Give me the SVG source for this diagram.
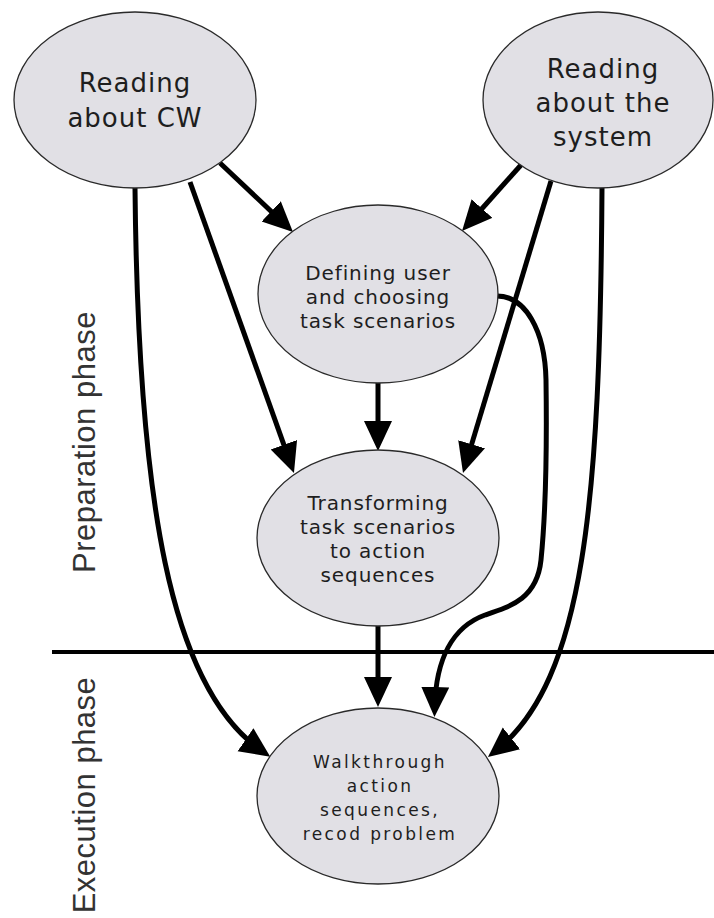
<svg xmlns="http://www.w3.org/2000/svg" width="714" height="918" viewBox="0 0 714 918">
<defs>
<style>
.node ellipse{fill:#e1e0e5;stroke:#2a2a2a;stroke-width:1.3}
.node text{font-family:"DejaVu Sans",Verdana,sans-serif;fill:#1e1e1e;text-anchor:middle}
.big{font-size:26px;letter-spacing:1px}
.mid{font-size:20px;letter-spacing:0.9px}
.small{font-size:17px;letter-spacing:2.4px}
.edge{fill:none;stroke:#000;stroke-width:5;marker-end:url(#ah)}
.phase{font-family:"Liberation Sans",Arial,sans-serif;font-size:31px;fill:#333;text-anchor:middle;letter-spacing:0.5px}
</style>
<marker id="ah" markerUnits="userSpaceOnUse" markerWidth="32" markerHeight="30" refX="20" refY="14" orient="auto">
<path d="M0,0 L30,14 L0,28 Z" fill="#000"/>
</marker>
</defs>
<rect width="714" height="918" fill="#fff"/>
<g id="divider">
<line x1="52" y1="652" x2="714" y2="652" stroke="#000" stroke-width="4"/>
</g>
<g id="phase-labels">
<text class="phase" transform="translate(95,442) rotate(-90)">Preparation phase</text>
<text class="phase" transform="translate(95,795) rotate(-90)">Execution phase</text>
</g>
<g id="connectors">
<path class="edge" d="M220,163 L285.7,225.1"/>
<path class="edge" d="M190,182 L290.6,463.6"/>
<path class="edge" d="M135,188 C138,500 170,688 262,751"/>
<path class="edge" d="M521,165 L468.7,223.5"/>
<path class="edge" d="M551,181 L465.9,463.4"/>
<path class="edge" d="M602,188 C600,500 585,680 495.8,750.8"/>
<path class="edge" d="M378,383 L378,441"/>
<path class="edge" d="M378,626 L378,697"/>
<path class="edge" d="M497,296 C525,296 545,330 546,380 C547,450 545,520 541,560 C537,598 512,606 485,615 C452,627 436,660 434.7,707"/>
</g>
<g id="n-cw" class="node">
<ellipse cx="135" cy="100" rx="121" ry="88"/>
<text class="big" x="135" y="92">Reading</text>
<text class="big" x="135" y="127">about CW</text>
</g>
<g id="n-system" class="node">
<ellipse cx="598" cy="100" rx="115" ry="88"/>
<text class="big" x="603" y="78">Reading</text>
<text class="big" x="603" y="112">about the</text>
<text class="big" x="603" y="146">system</text>
</g>
<g id="n-define" class="node">
<ellipse cx="378" cy="294" rx="120" ry="89"/>
<text class="mid" x="378" y="280">Defining user</text>
<text class="mid" x="378" y="304">and choosing</text>
<text class="mid" x="378" y="328">task scenarios</text>
</g>
<g id="n-transform" class="node">
<ellipse cx="378" cy="538" rx="121" ry="88"/>
<text class="mid" x="378" y="510">Transforming</text>
<text class="mid" x="378" y="534">task scenarios</text>
<text class="mid" x="378" y="558">to action</text>
<text class="mid" x="378" y="582">sequences</text>
</g>
<g id="n-walk" class="node">
<ellipse cx="378" cy="796" rx="121" ry="88"/>
<text class="small" x="380" y="768">Walkthrough</text>
<text class="small" x="380" y="792">action</text>
<text class="small" x="380" y="816">sequences,</text>
<text class="small" x="380" y="840">recod problem</text>
</g>
</svg>
